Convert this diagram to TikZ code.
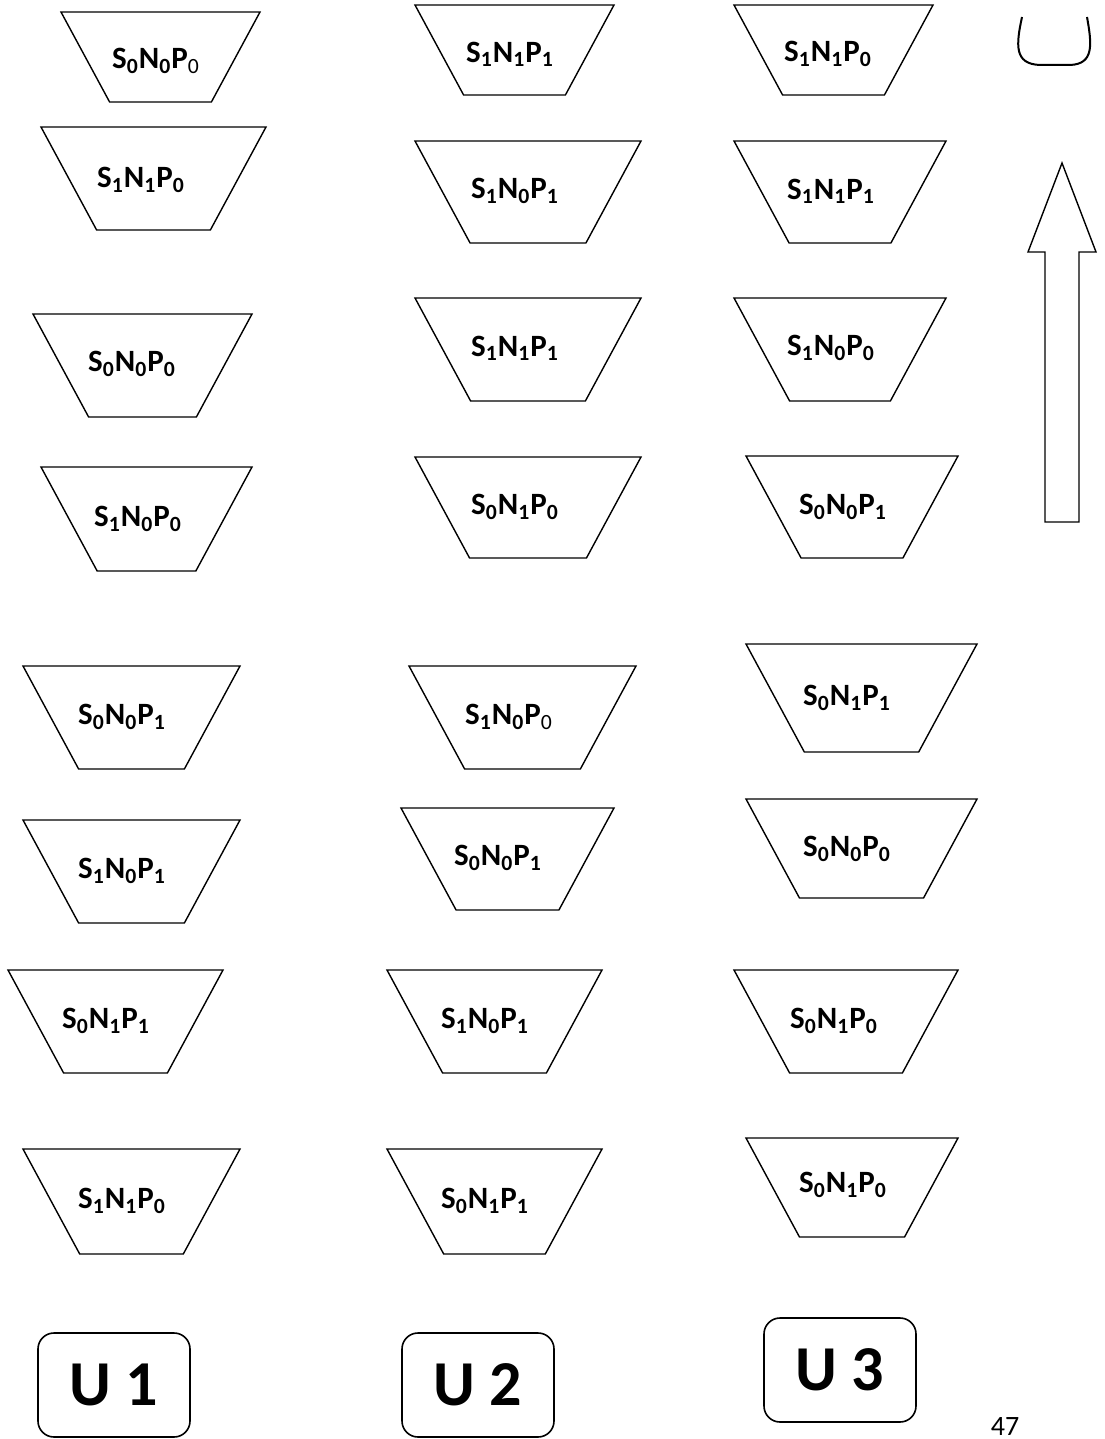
\documentclass[tikz,border=0pt]{standalone}
\usepackage{fontspec}
\setmainfont{Carlito}
\newcommand{\snp}[3]{S\textsubscript{#1}N\textsubscript{#2}P\textsubscript{#3}}

\begin{document}
\begin{tikzpicture}[x=0.5pt,y=-0.5pt,
  tray/.style={draw,line width=0.7pt},
  lab/.style={font=\fontsize{15.5}{18}\selectfont\bfseries,inner sep=0pt},
  ubox/.style={draw,line width=0.8pt,rounded corners=8pt,minimum width=76pt,
    minimum height=52pt,font=\fontsize{32}{36}\selectfont\bfseries}]
\useasboundingbox (0,0) rectangle (1104,1439);
% trays: name / top-left x / top-right x / top y / bottom y / label x / label y / text
\foreach \nm/\xl/\xr/\yt/\yb/\lx/\ly/\txt in {
  a1/61/260/12/102/156/61/{\snp{0}{0}{\mdseries 0}},
  a2/41/266/127/230/141/180/{\snp{1}{1}{0}},
  a3/33/252/314/417/132/364/{\snp{0}{0}{0}},
  a4/41/252/467/571/138/519/{\snp{1}{0}{0}},
  a5/23/240/666/769/122/717/{\snp{0}{0}{1}},
  a6/23/240/820/923/122/871/{\snp{1}{0}{1}},
  a7/8/223/970/1073/106/1021/{\snp{0}{1}{1}},
  a8/23/240/1149/1254/122/1201/{\snp{1}{1}{0}},
  b1/415/614/5/95/510/54/{\snp{1}{1}{1}},
  b2/415/641/141/243/515/191/{\snp{1}{0}{1}},
  b3/415/641/298/401/515/348/{\snp{1}{1}{1}},
  b4/415/641/457/558/515/507/{\snp{0}{1}{0}},
  b5/409/636/666/769/509/717/{\snp{1}{0}{\mdseries 0}},
  b6/401/614/808/910/498/858/{\snp{0}{0}{1}},
  b7/387/602/970/1073/485/1021/{\snp{1}{0}{1}},
  b8/387/602/1149/1254/485/1201/{\snp{0}{1}{1}},
  c1/734/933/5/95/828/54/{\snp{1}{1}{0}},
  c2/734/946/141/243/831/191/{\snp{1}{1}{1}},
  c3/734/946/298/401/831/348/{\snp{1}{0}{0}},
  c4/746/958/456/558/843/507/{\snp{0}{0}{1}},
  c5/746/977/644/752/847/698/{\snp{0}{1}{1}},
  c6/746/977/799/898/847/849/{\snp{0}{0}{0}},
  c7/734/958/970/1073/834/1021/{\snp{0}{1}{0}},
  c8/746/958/1138/1237/843/1185/{\snp{0}{1}{0}}}{
  \pgfmathsetmacro{\ins}{0.54*(\yb-\yt)}
  \draw[tray] (\xl,\yt) -- (\xr,\yt) -- (\xr-\ins,\yb) -- (\xl+\ins,\yb) -- cycle;
  \node[lab] (\nm) at (\lx,\ly) {\txt};}
% cup, top right
\draw[line width=1pt] (1022,17) .. controls (1016,45) and (1014,64) .. (1040,65)
  -- (1070,65) .. controls (1094,64) and (1092,45) .. (1087,17);
% block arrow
\draw[line width=0.7pt] (1062,163) -- (1096,252) -- (1079,252) -- (1079,522)
  -- (1045,522) -- (1045,252) -- (1028,252) -- cycle;
% units
\node[ubox] (u1) at (114,1385) {U 1};
\node[ubox] (u2) at (478,1385) {U 2};
\node[ubox] (u3) at (840,1370) {U 3};
% page number
\node[font=\fontsize{14}{16}\selectfont] (pg) at (1005,1426) {47};
\end{tikzpicture}
\end{document}
